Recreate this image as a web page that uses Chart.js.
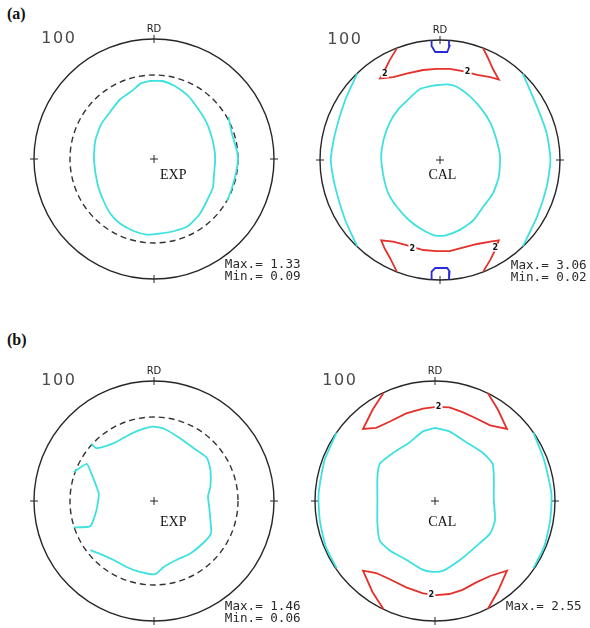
<!DOCTYPE html>
<html>
<head>
<meta charset="utf-8">
<script src="https://cdn.jsdelivr.net/npm/chart.js@4.4.0/dist/chart.umd.min.js"></script>
<style>
  body { margin: 0; background: #fff; width: 590px; height: 628px; position: relative; overflow: hidden; }
  canvas { position: absolute; }
  .tag { position: absolute; font: bold 16px "Liberation Serif", serif; color: #111; }
</style>
</head>
<body>
<div class="tag" style="left:7px; top:5px;">(a)</div>
<div class="tag" style="left:7px; top:331px;">(b)</div>
<canvas id="pa1" width="300" height="300" style="left:4px; top:9px;"></canvas>
<canvas id="pa2" width="300" height="300" style="left:290px; top:10px;"></canvas>
<canvas id="pb1" width="300" height="300" style="left:4px; top:351px;"></canvas>
<canvas id="pb2" width="300" height="300" style="left:285px; top:351px;"></canvas>
<script>
// contour points in pole-figure units (circle radius = 1)
const aExpLevel = [[-0.04,0.65],[0.07,0.65],[0.17,0.61],[0.28,0.53],[0.36,0.43],[0.43,0.32],[0.47,0.22],[0.50,0.10],[0.51,0.00],[0.50,-0.13],[0.49,-0.24],[0.44,-0.35],[0.38,-0.46],[0.28,-0.56],[0.17,-0.60],[0.06,-0.62],[-0.06,-0.63],[-0.17,-0.60],[-0.28,-0.54],[-0.36,-0.46],[-0.42,-0.35],[-0.47,-0.21],[-0.50,-0.01],[-0.49,0.15],[-0.44,0.29],[-0.36,0.40],[-0.28,0.50],[-0.18,0.57],[-0.11,0.63],[-0.04,0.65]];
const aExpEdge = [[0.62,0.35],[0.65,0.21],[0.69,0.07],[0.70,0.00],[0.68,-0.13],[0.65,-0.24],[0.61,-0.35]];

const aCalInner = [[-0.06,0.62],[0.06,0.63],[0.14,0.61],[0.25,0.53],[0.35,0.42],[0.42,0.31],[0.47,0.17],[0.50,0.03],[0.49,-0.14],[0.44,-0.28],[0.36,-0.39],[0.28,-0.50],[0.17,-0.58],[0.04,-0.63],[-0.04,-0.63],[-0.15,-0.58],[-0.26,-0.50],[-0.36,-0.39],[-0.43,-0.28],[-0.47,-0.14],[-0.49,0.03],[-0.47,0.17],[-0.42,0.31],[-0.35,0.42],[-0.26,0.51],[-0.17,0.59],[-0.06,0.62]];
const aCalLeft = [[-0.69,0.72],[-0.79,0.50],[-0.875,0.22],[-0.91,0.00],[-0.875,-0.22],[-0.79,-0.50],[-0.69,-0.72]];
const aCalRight = [[0.69,0.72],[0.81,0.44],[0.89,0.22],[0.92,0.00],[0.89,-0.22],[0.81,-0.47],[0.69,-0.72]];
const aCalRedTop = [[-0.36,0.93],[-0.42,0.83],[-0.46,0.75],[-0.50,0.68],[-0.39,0.69],[-0.28,0.72],[-0.14,0.75],[-0.03,0.76],[0.08,0.76],[0.19,0.74],[0.31,0.71],[0.42,0.69],[0.49,0.67],[0.44,0.76],[0.40,0.85],[0.36,0.93]];
const aCalRedBottom = [[-0.36,-0.93],[-0.42,-0.81],[-0.46,-0.74],[-0.49,-0.67],[-0.39,-0.68],[-0.28,-0.71],[-0.14,-0.75],[-0.03,-0.76],[0.08,-0.76],[0.19,-0.73],[0.31,-0.70],[0.42,-0.68],[0.49,-0.67],[0.46,-0.75],[0.42,-0.83],[0.36,-0.93]];
const aCalBlueTop = [[-0.07,0.995],[-0.07,0.95],[-0.04,0.90],[0.06,0.90],[0.08,0.95],[0.075,0.995]];
const aCalBlueBottom = [[-0.07,-0.995],[-0.07,-0.93],[-0.04,-0.90],[0.06,-0.90],[0.08,-0.93],[0.075,-0.995]];
const aCalTwos = [[-0.46,0.72],[0.23,0.73],[-0.23,-0.74],[0.46,-0.73]];

const bExpLevel = [[-0.52,0.475],[-0.48,0.44],[-0.34,0.48],[-0.23,0.54],[-0.12,0.59],[-0.01,0.62],[0.09,0.60],[0.22,0.52],[0.33,0.44],[0.44,0.36],[0.47,0.26],[0.47,0.12],[0.45,0.04],[0.46,-0.05],[0.47,-0.16],[0.475,-0.27],[0.41,-0.35],[0.30,-0.44],[0.19,-0.49],[0.08,-0.55],[0.01,-0.61],[-0.12,-0.59],[-0.23,-0.55],[-0.34,-0.49],[-0.45,-0.44],[-0.53,-0.41]];
const bExpSide = [[-0.67,0.24],[-0.56,0.31],[-0.51,0.20],[-0.46,0.06],[-0.48,-0.08],[-0.53,-0.21],[-0.67,-0.22]];

const bCalInner = [[0.00,0.61],[0.12,0.58],[0.26,0.49],[0.40,0.40],[0.48,0.31],[0.49,0.20],[0.49,0.01],[0.50,-0.16],[0.46,-0.27],[0.34,-0.38],[0.21,-0.49],[0.07,-0.58],[-0.02,-0.59],[-0.11,-0.57],[-0.24,-0.49],[-0.38,-0.41],[-0.46,-0.33],[-0.48,-0.19],[-0.48,0.01],[-0.48,0.20],[-0.46,0.31],[-0.35,0.40],[-0.21,0.49],[-0.10,0.58],[0.00,0.61]];
const bCalLeft = [[-0.82,0.57],[-0.92,0.34],[-0.97,0.06],[-0.96,-0.16],[-0.91,-0.38],[-0.82,-0.56]];
const bCalRight = [[0.82,0.57],[0.91,0.34],[0.97,0.06],[0.96,-0.16],[0.91,-0.38],[0.82,-0.56]];
const bCalRedTop = [[-0.43,0.90],[-0.52,0.76],[-0.60,0.60],[-0.49,0.61],[-0.38,0.66],[-0.24,0.73],[-0.10,0.77],[0.01,0.785],[0.12,0.78],[0.23,0.74],[0.34,0.69],[0.46,0.63],[0.60,0.60],[0.525,0.76],[0.44,0.90]];
const bCalRedBottom = [[-0.43,-0.90],[-0.52,-0.76],[-0.60,-0.58],[-0.49,-0.60],[-0.38,-0.65],[-0.24,-0.72],[-0.10,-0.77],[0.01,-0.785],[0.12,-0.775],[0.23,-0.74],[0.34,-0.68],[0.46,-0.625],[0.60,-0.58],[0.525,-0.75],[0.44,-0.90]];
const bCalTwos = [[0.03,0.78],[-0.03,-0.78]];

const maxMin = { a1: ['Max.= 1.33', 'Min.= 0.09'], a2: ['Max.= 3.06', 'Min.= 0.02'], b1: ['Max.= 1.46', 'Min.= 0.06'], b2: ['Max.= 2.55'] };

const CYAN = '#3ee0e0', RED = '#e4312b', BLUE = '#2a2ad8';

const toXY = pts => pts.map(p => ({ x: p[0], y: p[1] }));
const line = (pts, color, tension) => ({
    data: toXY(pts), showLine: true, borderColor: color, borderWidth: 1.8,
    pointRadius: 0, tension: tension, fill: false
});

// circle frame, ticks, centre cross and texts, placed through the scales
const poleFrame = {
    id: 'poleFrame',
    beforeDatasetsDraw(chart, args, opts) {
        const ctx = chart.ctx, sx = chart.scales.x, sy = chart.scales.y;
        const cx = sx.getPixelForValue(0), cy = sy.getPixelForValue(0);
        const r = sx.getPixelForValue(1) - cx;
        ctx.save();
        ctx.strokeStyle = '#262626';
        ctx.lineWidth = 1.4;
        ctx.beginPath(); ctx.arc(cx, cy, r, 0, Math.PI * 2); ctx.stroke();
        ctx.lineWidth = 1;
        [[1,0],[-1,0],[0,1],[0,-1]].forEach(d => {
            ctx.beginPath();
            ctx.moveTo(cx + d[0] * (r - 4), cy - d[1] * (r - 4));
            ctx.lineTo(cx + d[0] * (r + 4), cy - d[1] * (r + 4));
            ctx.stroke();
        });
        ctx.beginPath();
        ctx.moveTo(cx - 4, cy); ctx.lineTo(cx + 4, cy);
        ctx.moveTo(cx, cy - 4); ctx.lineTo(cx, cy + 4);
        ctx.stroke();
        if (opts.dashed) {
            ctx.strokeStyle = '#333';
            ctx.lineWidth = 1.4;
            ctx.setLineDash([6, 4]);
            ctx.beginPath(); ctx.arc(cx, cy, r * 0.70, 0, Math.PI * 2); ctx.stroke();
        }
        ctx.restore();
    },
    afterDatasetsDraw(chart, args, opts) {
        const ctx = chart.ctx, sx = chart.scales.x, sy = chart.scales.y;
        const P = (u, v) => [sx.getPixelForValue(u), sy.getPixelForValue(v)];
        ctx.save();
        ctx.textBaseline = 'middle';
        (opts.twos || []).forEach(t => {
            const [x, y] = P(t[0], t[1]);
            ctx.fillStyle = '#fff';
            ctx.fillRect(x - 4, y - 4, 8, 8);
            ctx.fillStyle = '#111';
            ctx.font = 'bold 8px "DejaVu Sans"';
            ctx.textAlign = 'center';
            ctx.fillText('2', x, y);
        });
        let p = P(-0.80, 1.00);
        ctx.fillStyle = '#4a4a4a';
        ctx.font = '16px "DejaVu Sans"';
        ctx.textAlign = 'center';
        ctx.fillText('1 0 0'.replace(/ /g, '\u200a'), p[0], p[1]);
        p = P(0, 1.08);
        ctx.fillStyle = '#222';
        ctx.font = '10px "DejaVu Sans"';
        ctx.fillText('RD', p[0], p[1]);
        p = P(opts.nameAt[0], opts.nameAt[1]);
        ctx.fillStyle = '#111';
        ctx.font = '14px "Liberation Serif"';
        ctx.fillText(opts.name, p[0], p[1]);
        ctx.textAlign = 'left';
        ctx.fillStyle = '#2a2a2a';
        ctx.font = '12.6px "DejaVu Sans Mono"';
        opts.stats.forEach((s, i) => {
            const q = P(0.59, -0.885 - i * 0.1);
            ctx.fillText(s, q[0], q[1]);
        });
        ctx.restore();
    }
};

function pole(id, datasets, frame) {
    new Chart(document.getElementById(id), {
        type: 'scatter',
        data: { datasets: datasets },
        options: {
            responsive: false,
            animation: false,
            layout: { padding: 0 },
            scales: {
                x: { type: 'linear', min: -1.25, max: 1.25, display: false },
                y: { type: 'linear', min: -1.25, max: 1.25, display: false }
            },
            plugins: { legend: { display: false }, tooltip: { enabled: false }, poleFrame: frame }
        },
        plugins: [poleFrame]
    });
}

pole('pa1', [line(aExpLevel, CYAN, 0.2), line(aExpEdge, CYAN, 0.2)],
    { dashed: true, name: 'EXP', nameAt: [0.16, -0.14], stats: maxMin.a1 });
pole('pa2', [line(aCalInner, CYAN, 0.2), line(aCalLeft, CYAN, 0.2), line(aCalRight, CYAN, 0.2),
        line(aCalRedTop, RED, 0), line(aCalRedBottom, RED, 0),
        line(aCalBlueTop, BLUE, 0), line(aCalBlueBottom, BLUE, 0)],
    { dashed: false, name: 'CAL', nameAt: [0.02, -0.13], stats: maxMin.a2, twos: aCalTwos });
pole('pb1', [line(bExpLevel, CYAN, 0.2), line(bExpSide, CYAN, 0.15)],
    { dashed: true, name: 'EXP', nameAt: [0.16, -0.18], stats: maxMin.b1 });
pole('pb2', [line(bCalInner, CYAN, 0.2), line(bCalLeft, CYAN, 0.2), line(bCalRight, CYAN, 0.2),
        line(bCalRedTop, RED, 0), line(bCalRedBottom, RED, 0)],
    { dashed: false, name: 'CAL', nameAt: [0.06, -0.18], stats: maxMin.b2, twos: bCalTwos });
</script>
</body>
</html>
